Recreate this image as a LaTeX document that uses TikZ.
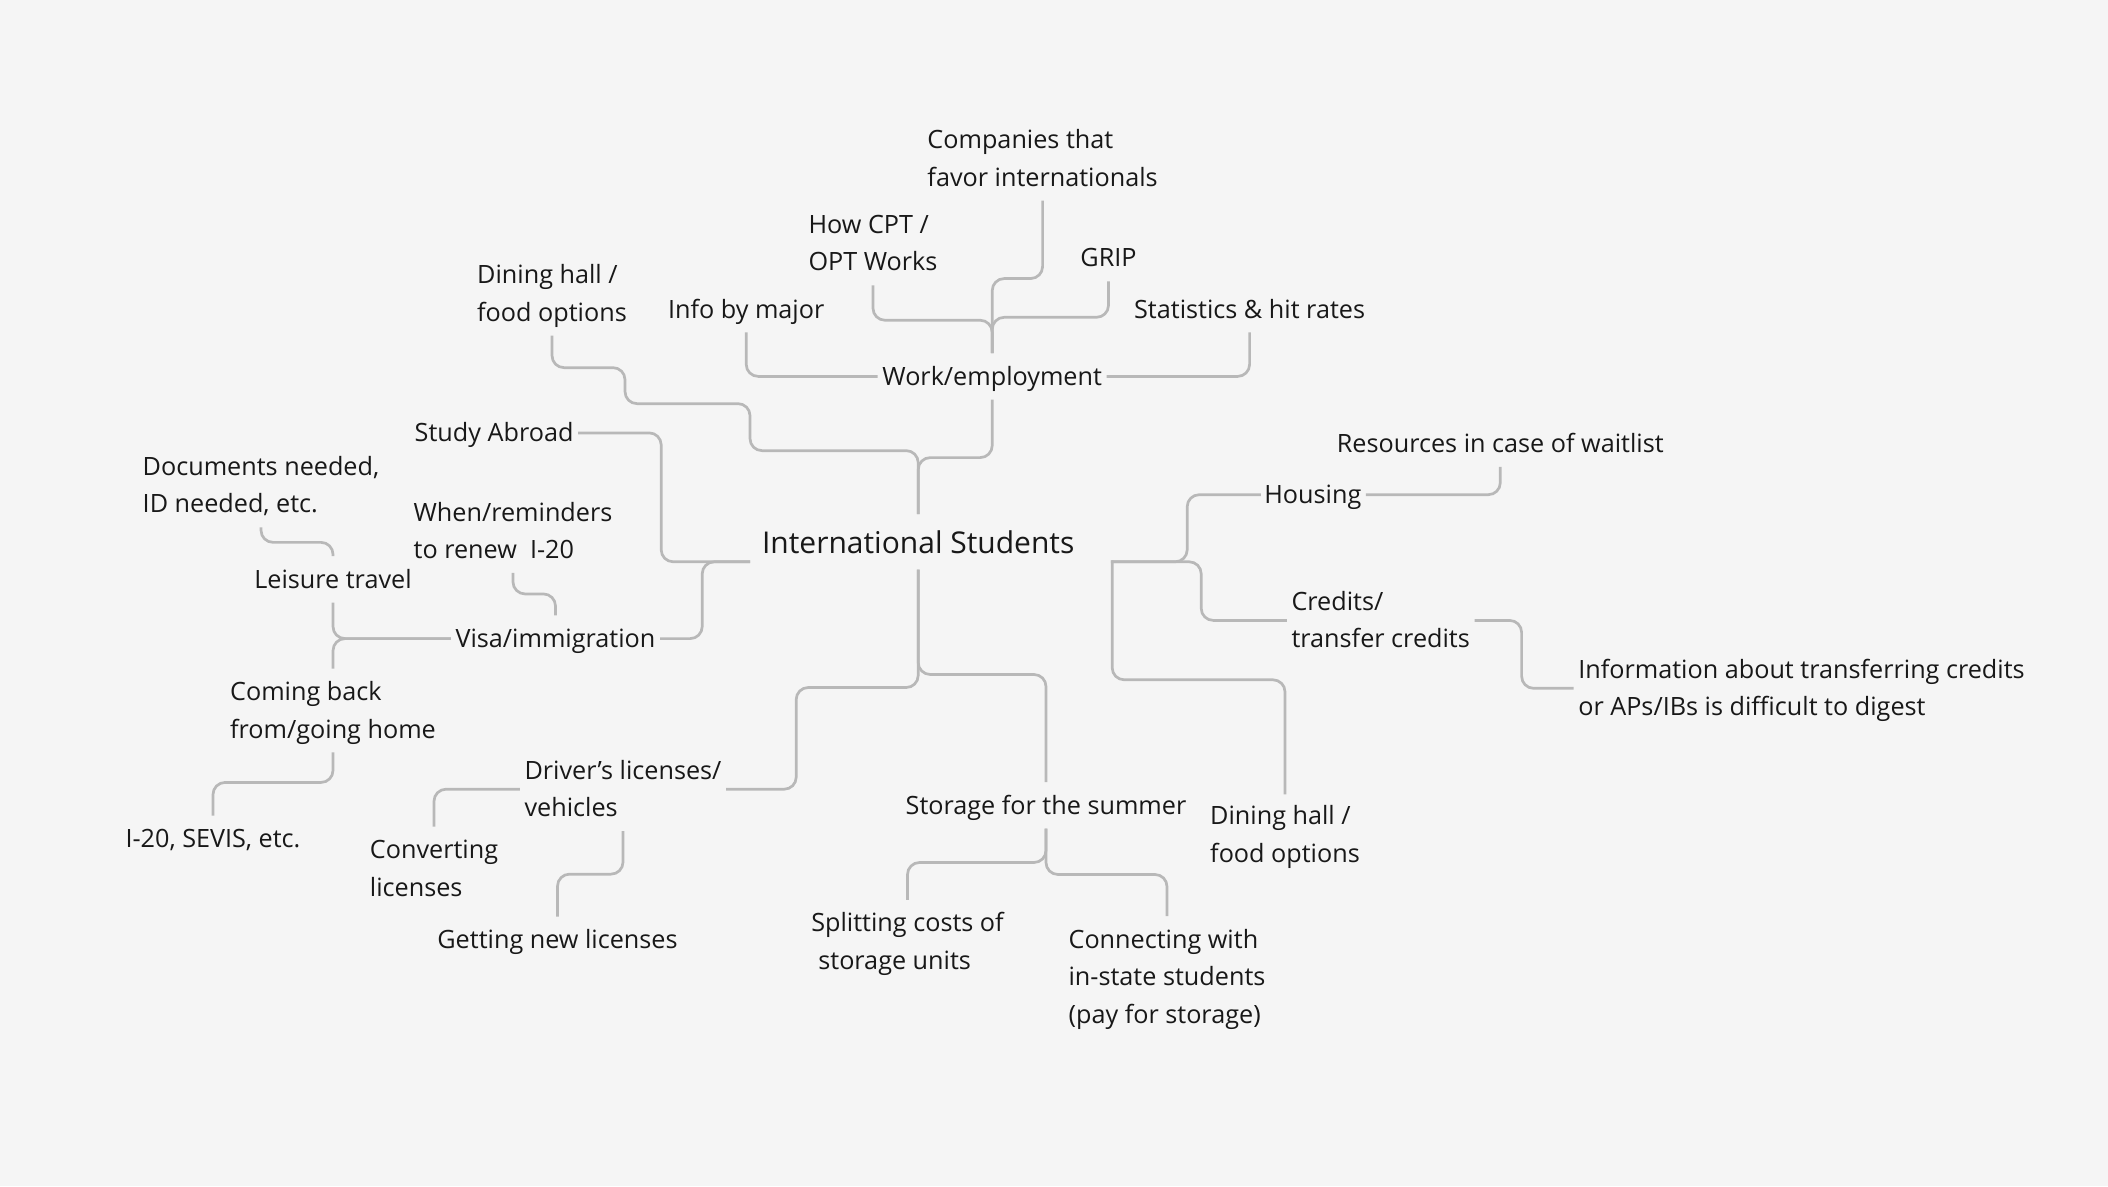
\documentclass[tikz,border=0pt]{standalone}
\usepackage{fontspec}
\setmainfont{Open Sans}
\usetikzlibrary{calc}
\definecolor{bgcol}{HTML}{F5F5F5}
\definecolor{linecol}{HTML}{B8B8B8}
\definecolor{txtcol}{HTML}{181818}
\newcommand\mainfs{\fontsize{25.2}{37.5}\selectfont}
\newcommand\myT{\rule{0pt}{31.8pt}}
\newcommand\myB{\rule[-14.2pt]{0pt}{14.2pt}}
\tikzset{
  lbl/.style={font=\mainfs, text=txtcol, inner xsep=4.5pt, inner ysep=0pt, anchor=center},
  one/.style={lbl, text height=31.8pt, text depth=14.2pt},
  multi/.style={lbl, align=left},
  conn/.style={draw=linecol, line width=2.7pt, rounded corners=12pt},
}
\begin{document}
\begin{tikzpicture}[x=1pt, y=-1pt]
\fill[bgcol] (0,0) rectangle (2108,1186);
\useasboundingbox (0,0) rectangle (2108,1186);

% central node
\node[font=\fontsize{30}{36}\selectfont, text=txtcol, inner xsep=0pt, inner ysep=0pt,
      text height=38.7pt, text depth=16.3pt] (intl) at (918.2,541.8) {International Students};
\coordinate (intlW) at ([xshift=-168pt, yshift=-20pt]intl.center);
\coordinate (intlE) at ([xshift=194pt, yshift=-20pt]intl.center);

% top: work
\node[multi] (companies) at (1042.6,158.6) {\myT Companies that\\favor internationals\myB};
\node[multi] (cpt) at (873,243.3) {\myT How CPT /\\OPT Works\myB};
\node[one] (grip) at (1108.5,258.1) {GRIP};
\node[multi] (dining1) at (552,293.7) {\myT Dining hall /\\food options\myB};
\node[one] (info) at (746.2,309.2) {Info by major};
\node[one] (stats) at (1249.6,309.2) {Statistics \& hit rates};
\node[one] (work) at (992.2,376.4) {Work/employment};

% left
\node[one] (study) at (494.1,432.9) {Study Abroad};
\node[multi] (docs) at (261,485.4) {\myT Documents needed,\\ID needed, etc.\myB};
\node[multi] (when) at (513,531) {\myT When/reminders\\to renew\ \ I-20\myB};
\node[one] (leisure) at (333,579.4) {Leisure travel};
\node[one] (visa) at (555.5,638.6) {Visa/immigration};
\node[multi] (coming) at (333,710.5) {\myT Coming back\\from/going home\myB};
\node[one] (sevis) at (213,838.9) {I-20, SEVIS, etc.};

% right
\node[one] (resources) at (1500.3,443.6) {Resources in case of waitlist};
\node[one] (housing) at (1312.8,494.7) {Housing};
\node[multi] (credits) at (1380.7,620.4) {\myT Credits/\\transfer credits\myB};
\node[multi] (info2) at (1801.5,688.3) {\myT Information about transferring credits\\or APs/IBs is difficult to digest\myB};
\node[multi] (dining2) at (1285,834.9) {\myT Dining hall /\\food options\myB};

% bottom
\node[multi] (drivers) at (623,789.2) {\myT Driver’s licenses/\\vehicles\myB};
\node[one] (storage) at (1046,805.3) {Storage for the summer};
\node[multi] (converting) at (434,868.5) {\myT Converting\\licenses\myB};
\node[one] (getting) at (557.5,939.7) {Getting new licenses};
\node[multi] (splitting) at (907.5,941.7) {\myT Splitting costs of\\\hspace*{0.28em}storage units\myB};
\node[multi] (connecting) at (1167,976.7) {\myT Connecting with\\in-state students\\(pay for storage)\myB};

% connectors: work cluster
\draw[conn] (companies.south) -- ++(0,78) -| (work.north);
\draw[conn] (cpt.south) -- ++(0,35) -| (work.north);
\draw[conn] (grip.south) -- ++(0,36) -| (work.north);
\draw[conn] (info.south) |- (work.west);
\draw[conn] (stats.south) |- (work.east);
\draw[conn] (work.south) -- ++(0,58) -| (intl.north);
\draw[conn] (dining1.south) -- ++(0,32) -- ++(73,0) -- ++(0,36) -- ++(125,0) -- ++(0,47) -| (intl.north);

% left cluster
\draw[conn] (study.east) -| ($(intlW)+(-89,0)$) -- (intlW);
\draw[conn] (visa.east) -| ($(intlW)+(-48,0)$) -- (intlW);
\draw[conn] (visa.west) -| (leisure.south);
\draw[conn] (visa.west) -| (coming.north);
\draw[conn] (docs.south) -- ++(0,15) -| (leisure.north);
\draw[conn] (when.south) -- ++(0,21) -| (visa.north);
\draw[conn] (coming.south) -- ++(0,30) -| (sevis.north);

% right cluster
\draw[conn, line cap=rect] (intlE) -- ++(0,118) -| (dining2.north);
\draw[conn, line cap=rect] (intlE) -- ++(75,0) |- (housing.west);
\draw[conn] (intlE) -- ++(89,0) |- (credits.west);
\draw[conn] (housing.east) -| (resources.south);
\draw[conn] (credits.east) -| ($(info2.west)+(-52,0)$) -- (info2.west);

% bottom cluster
\draw[conn] (intl.south) -- ++(0,118) -- ++(-122,0) |- (drivers.east);
\draw[conn] (intl.south) -- ++(0,105) -| (storage.north);
\draw[conn] (drivers.west) -| (converting.north);
\draw[conn] (drivers.south) -- ++(0,43) -| (getting.north);
\draw[conn] (storage.south) -- ++(0,34) -| (splitting.north);
\draw[conn] (storage.south) -- ++(0,46) -| (connecting.north);
\end{tikzpicture}
\end{document}
